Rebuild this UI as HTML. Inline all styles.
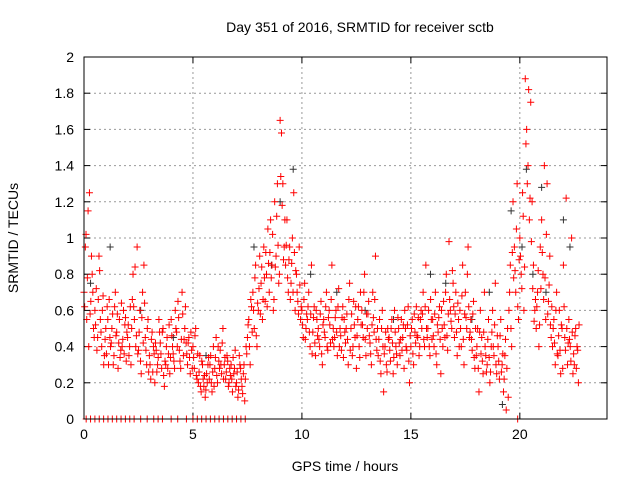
<!DOCTYPE html>
<html><head><meta charset="utf-8"><style>
body{margin:0;background:#fff;}
svg{display:block;font-family:"Liberation Sans",sans-serif;}
</style></head><body>
<svg id="chart" width="640" height="480" viewBox="0 0 640 480">
<rect width="640" height="480" fill="#fff"/>
<text x="360" y="32" font-size="14" text-anchor="middle" fill="#000">Day 351 of 2016, SRMTID for receiver sctb</text>
<text x="345" y="471" font-size="14" text-anchor="middle">GPS time / hours</text>
<text transform="translate(18,238) rotate(-90)" font-size="14" text-anchor="middle">SRMTID / TECUs</text>
<g id="grid"></g>
<g id="ticks"></g>
<g id="black" stroke="#333" stroke-width="1"></g>
<g id="red" stroke="#f00" stroke-width="1"></g>
<rect x="84" y="57" width="523" height="362" fill="none" stroke="#000"/>
</svg>
<script>
const xTicks=[0,5,10,15,20];
const yTicks=[0,0.2,0.4,0.6,0.8,1,1.2,1.4,1.6,1.8,2];
const yTickLabels=["0","0.2","0.4","0.6","0.8","1","1.2","1.4","1.6","1.8","2"];
const redHours=[0,0.25,0.5,0.75,1,1.25,1.5,1.75,2,2.25,2.5,2.75,3,3.25,3.5,3.75,4,4.25,4.5,4.75,5,5.25,5.5,5.75,6,6.25,6.5,6.75,7,7.25,7.5,7.75,8,8.25,8.5,8.75,9,9.25,9.5,9.75,10,10.25,10.5,10.75,11,11.25,11.5,11.75,12,12.25,12.5,12.75,13,13.25,13.5,13.75,14,14.25,14.5,14.75,15,15.25,15.5,15.75,16,16.25,16.5,16.75,17,17.25,17.5,17.75,18,18.25,18.5,18.75,19,19.25,19.5,19.75,20,20.25,20.5,20.75,21,21.25,21.5,21.75,22,22.25,22.5];
const redVals=[[.70,.95,.55,1.15],[1.25,.65,.80,.50],[.60,.72,.45,.90],[.55,.40,.68,.35],[.50,.62,.30,.45],[.42,.58,.35,.70],[.48,.28,.55,.38],[.40,.60,.52,.32],[.45,.35,.62,.50],[.80,.55,.40,.95],[.38,.60,.25,.70],[.85,.45,.30,.55],[.35,.22,.48,.40],[.20,.38,.30,.55],[.42,.28,.50,.18],[.30,.45,.36,.25],[.55,.40,.32,.60],[.48,.65,.38,.28],[.70,.35,.50,.42],[.30,.45,.25,.38],[.40,.28,.50,.22],[.20,.35,.15,.30],[.18,.12,.25,.30],[.22,.35,.15,.40],[.28,.45,.20,.32],[.38,.25,.50,.30],[.22,.35,.18,.28],[.30,.15,.25,.38],[.20,.12,.35,.28],[.18,.25,.10,.40],[.45,.55,.30,.62],[.70,.50,.85,.40],[.60,.90,.75,.55],[.95,.65,.80,1.05],[.70,1.10,.85,.60],[1.20,.90,1.30,.75],[1.65,1.58,1.30,.95],[.85,1.10,.70,.95],[.75,1.00,1.25,.60],[.80,.65,.95,.55],[.60,.45,.75,.50],[.55,.70,.40,.85],[.48,.62,.35,.55],[.50,.40,.65,.30],[.55,.45,.70,.38],[.60,.42,.85,.50],[.45,.60,.35,.72],[.50,.38,.62,.55],[.42,.58,.30,.75],[.50,.35,.65,.45],[.28,.55,.40,.70],[.60,.45,.80,.35],[.50,.65,.42,.30],[.70,.48,.90,.38],[.35,.55,.25,.60],[.15,.40,.30,.50],[.45,.32,.55,.25],[.60,.40,.30,.50],[.35,.55,.45,.28],[.50,.38,.62,.20],[.40,.55,.30,.48],[.62,.45,.35,.55],[.50,.70,.40,.85],[.45,.60,.35,.55],[.55,.40,.70,.30],[.48,.62,.25,.50],[.65,.45,.80,.38],[.98,.60,.50,.75],[.45,.70,.35,.55],[.60,.40,.85,.30],[.70,.50,.95,.45],[.55,.38,.65,.28],[.35,.50,.15,.60],[.45,.25,.70,.35],[.30,.55,.20,.40],[.60,.35,.75,.25],[.40,.22,.55,.30],[.15,.35,.05,.50],[.60,.85,.40,1.20],[.95,.70,1.30,.55],[1.00,.80,1.25,.60],[1.88,1.60,1.40,1.10],[1.75,1.20,.85,.60],[.50,.70,.40,.95],[1.10,.80,1.40,.55],[1.30,.65,.90,.45],[.40,.55,.30,.70],[.35,.60,.25,.50],[.85,.45,1.22,.30],[.55,.40,1.00,.25],[.30,.50,.40,.20]];
const redVals2=[[.62,1.02,.78,.40],[.58,.90,.70,.45],[.52,.38,.66,.82],[.48,.60,.30,.44],[.36,.55,.66,.40],[.50,.30,.62,.46],[.58,.42,.34,.64],[.44,.36,.56,.48],[.52,.40,.30,.66],[.62,.84,.46,.36],[.48,.32,.56,.42],[.64,.38,.50,.26],[.30,.44,.26,.36],[.42,.26,.34,.48],[.36,.48,.24,.32],[.40,.28,.52,.34],[.46,.36,.28,.50],[.40,.56,.32,.44],[.58,.44,.62,.36],[.42,.34,.48,.28],[.34,.46,.24,.36],[.26,.18,.32,.22],[.24,.16,.20,.34],[.30,.20,.26,.18],[.34,.24,.40,.28],[.30,.42,.22,.34],[.26,.32,.20,.24],[.22,.34,.28,.18],[.26,.16,.30,.22],[.14,.30,.22,.36],[.52,.40,.66,.48],[.60,.78,.46,.64],[.72,.58,.84,.66],[.78,.92,.62,.86],[.92,.78,1.02,.66],[.84,1.12,.96,.80],[1.34,1.18,.88,1.10],[.96,.78,.88,.66],[.86,.70,.92,.82],[.70,.58,.74,.62],[.52,.66,.44,.58],[.62,.48,.58,.36],[.56,.42,.60,.46],[.44,.58,.36,.52],[.48,.62,.40,.56],[.52,.66,.44,.40],[.56,.48,.62,.40],[.46,.56,.34,.48],[.50,.44,.66,.38],[.58,.40,.52,.62],[.46,.62,.34,.52],[.52,.70,.44,.58],[.58,.46,.36,.52],[.56,.66,.44,.50],[.44,.32,.50,.40],[.36,.48,.26,.44],[.38,.50,.42,.34],[.48,.36,.56,.42],[.44,.38,.52,.60],[.40,.52,.32,.46],[.50,.36,.58,.42],[.46,.56,.40,.60],[.58,.44,.62,.50],[.50,.40,.66,.44],[.46,.58,.36,.52],[.56,.44,.60,.40],[.52,.70,.46,.58],[.66,.54,.82,.62],[.58,.48,.64,.40],[.50,.68,.44,.58],[.56,.80,.62,.48],[.44,.58,.34,.50],[.40,.28,.48,.36],[.32,.48,.40,.26],[.44,.34,.26,.48],[.40,.52,.30,.46],[.32,.46,.26,.36],[.22,.44,.28,.12],[.70,.50,.92,.78],[.82,1.05,.62,.88],[.90,.72,1.12,.84],[1.52,1.30,1.82,1.22],[.98,.72,.54,.66],[.62,.82,.52,.72],[.92,.66,.78,1.02],[.58,.74,.52,.62],[.50,.42,.60,.36],[.46,.38,.52,.28],[.62,.38,.50,.42],[.44,.32,.48,.36],[.46,.28,.38,.52]];
const blackHours=[0.3,1.2,2.6,4.1,5.6,7.8,8.6,9.0,9.6,10.4,11.6,12.9,14.2,15.9,16.6,17.8,18.6,19.2,19.6,20.1,20.3,20.6,21.0,21.2,22.0,22.3];
const blackVals=[.75,.95,.60,.45,.35,.95,.85,1.20,1.38,.80,.70,.60,.55,.80,.75,.55,.70,.08,1.15,.95,1.38,.80,1.28,.70,1.10,.95];
const zeroHours=[0.1,0.3,0.5,0.7,0.9,1.1,1.3,1.5,1.7,1.9,2.1,2.3,2.6,2.9,3.2,3.4,3.6,4.0,4.3,4.7,5.0,5.2,5.4,5.6,5.8,6.0,6.2,6.4,6.6,6.8,7.0,7.2,7.4,19.9];
const zeroVals=zeroHours.map(()=>0);

const X0=84,X1=607,Y0=419,Y1=57,XMAX=24,YMAX=2;
const sx=h=>X0+h/XMAX*(X1-X0);
const sy=v=>Y0-v/YMAX*(Y0-Y1);
const NS="http://www.w3.org/2000/svg";
function mk(tag,attrs,parent){const e=document.createElementNS(NS,tag);for(const k in attrs)e.setAttribute(k,attrs[k]);parent.appendChild(e);return e;}
const grid=document.getElementById('grid'),ticks=document.getElementById('ticks');
xTicks.forEach(t=>{const x=sx(t);
 if(t>0){const g=mk('line',{x1:x,x2:x,y1:Y0,y2:Y1,stroke:'#999','stroke-dasharray':'2,3'},grid);
 
 }
 mk('line',{x1:x,x2:x,y1:Y0,y2:Y0-6,stroke:'#000'},ticks);mk('line',{x1:x,x2:x,y1:Y1,y2:Y1+6,stroke:'#000'},ticks);
 const tx=mk('text',{x:x,y:Y0+20,'font-size':14,'text-anchor':'middle'},ticks);tx.textContent=t;
 
 });
yTicks.forEach((t,i)=>{const y=sy(t);
 if(t>0&&t<2){const g=mk('line',{x1:X0,x2:X1,y1:y,y2:y,stroke:'#999','stroke-dasharray':'2,3'},grid);
 
 }
 mk('line',{x1:X0,x2:X0+6,y1:y,y2:y,stroke:'#000'},ticks);mk('line',{x1:X1,x2:X1-6,y1:y,y2:y,stroke:'#000'},ticks);
 const tx=mk('text',{x:X0-10,y:y+5,'font-size':14,'text-anchor':'end'},ticks);tx.textContent=yTickLabels[i];
 
 });
function plus(h,v,g){const x=sx(h),y=sy(v);
 const p=mk('path',{d:`M${x-3.5},${y}H${x+3.5}M${x},${y-3.5}V${y+3.5}`,fill:'none'},g);
 
 }
const gr=document.getElementById('red'),gb=document.getElementById('black');
blackHours.forEach((h,i)=>plus(h,blackVals[i],gb));
redHours.forEach((h,i)=>redVals[i].forEach((v,j)=>plus(h+j*0.0625,v,gr)));
redHours.forEach((h,i)=>redVals2[i].forEach((v,j)=>plus(h+j*0.0625+0.03,v,gr)));
zeroHours.forEach((h,i)=>plus(h,zeroVals[i],gr));
</script>
</body></html>
